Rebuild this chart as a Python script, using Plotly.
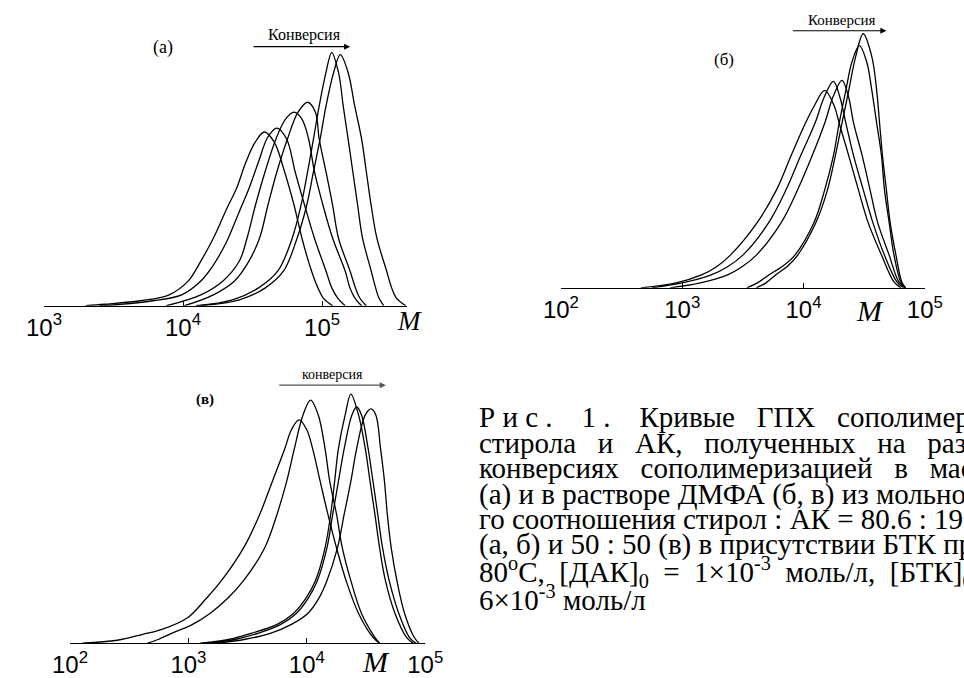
import numpy as np
import plotly.graph_objects as go

# ---------------- data (log10 M, relative detector response) ----------------
# Panel (a): 6 curves
a_logM_1 = [3.30, 3.436, 3.692, 3.900, 4.038, 4.128, 4.218, 4.315, 4.384, 4.453, 4.52, 4.585, 4.655, 4.730, 4.799, 4.855, 4.924, 4.97, 5.007, 5.076]
a_h_1 = [0, 1.5, 5, 11, 25, 45, 68, 98, 118, 145, 165, 175, 165, 135, 101, 68, 35, 18, 8, 0]
a_logM_2 = [3.40, 3.60, 3.782, 3.990, 4.128, 4.218, 4.315, 4.405, 4.474, 4.543, 4.61, 4.675, 4.745, 4.806, 4.875, 4.945, 5.028, 5.07, 5.111, 5.166]
a_h_2 = [0, 2, 5, 11, 25, 41, 65, 95, 118, 145, 170, 179, 168, 135, 101, 68, 35, 18, 8, 0]
a_logM_3 = [3.88, 4.128, 4.287, 4.405, 4.460, 4.52, 4.59, 4.668, 4.737, 4.799, 4.855, 4.903, 4.945, 5.007, 5.076, 5.166, 5.20, 5.235, 5.284]
a_h_3 = [0, 11, 25, 45, 68, 101, 135, 168, 188, 195, 188, 168, 135, 101, 68, 35, 18, 8, 0]
a_logM_4 = [4.01, 4.218, 4.37, 4.474, 4.55, 4.61, 4.675, 4.751, 4.827, 4.896, 4.952, 4.979, 5.028, 5.076, 5.118, 5.201, 5.24, 5.270, 5.318]
a_h_4 = [0, 11, 25, 45, 68, 101, 135, 168, 195, 205, 195, 168, 135, 101, 68, 35, 18, 8, 0]
a_logM_5 = [4.093, 4.356, 4.543, 4.682, 4.785, 4.848, 4.896, 4.938, 4.979, 5.028, 5.069, 5.118, 5.152, 5.187, 5.221, 5.256, 5.291, 5.353, 5.385, 5.408, 5.443]
a_h_5 = [0, 6, 18, 35, 68, 101, 135, 168, 201, 235, 255, 235, 201, 168, 135, 101, 68, 35, 18, 8, 0]
a_logM_6 = [4.128, 4.405, 4.592, 4.723, 4.820, 4.889, 4.938, 4.986, 5.028, 5.083, 5.131, 5.187, 5.235, 5.284, 5.318, 5.353, 5.394, 5.464, 5.50, 5.533, 5.602]
a_h_6 = [0, 6, 18, 35, 68, 101, 135, 168, 201, 235, 253, 235, 201, 168, 135, 101, 68, 35, 18, 8, 0]

# Panel (б): 5 curves
b_logM_1 = [2.659, 2.95, 3.159, 3.28, 3.397, 3.619, 3.778, 3.897, 4.016, 4.087, 4.175, 4.254, 4.294, 4.373, 4.452, 4.532, 4.643, 4.746, 4.802]
b_h_1 = [0, 5, 13, 21, 33, 66, 99, 133, 166, 183, 199, 183, 166, 133, 99, 66, 33, 6, 0]
b_logM_2 = [2.75, 3.0, 3.238, 3.37, 3.500, 3.714, 3.857, 3.976, 4.095, 4.17, 4.246, 4.30, 4.349, 4.413, 4.492, 4.571, 4.667, 4.770, 4.825]
b_h_2 = [0, 5, 13, 21, 33, 66, 99, 133, 166, 192, 208, 192, 166, 133, 99, 66, 33, 6, 0]
b_logM_3 = [2.9, 3.15, 3.373, 3.49, 3.611, 3.817, 3.952, 4.071, 4.175, 4.245, 4.317, 4.37, 4.413, 4.484, 4.548, 4.611, 4.706, 4.786, 4.841]
b_h_3 = [0, 5, 13, 21, 33, 66, 99, 133, 166, 193, 209, 193, 166, 133, 99, 66, 33, 6, 0]
b_logM_4 = [3.532, 3.62, 3.714, 3.83, 3.929, 4.087, 4.175, 4.246, 4.294, 4.349, 4.40, 4.460, 4.52, 4.563, 4.603, 4.643, 4.667, 4.706, 4.746, 4.802, 4.841]
b_h_4 = [0, 5, 13, 22, 33, 66, 99, 133, 166, 199, 228, 244, 228, 199, 166, 133, 99, 66, 33, 6, 0]
b_logM_5 = [3.611, 3.69, 3.770, 3.87, 3.952, 4.103, 4.198, 4.262, 4.317, 4.373, 4.43, 4.492, 4.563, 4.603, 4.627, 4.651, 4.683, 4.714, 4.762, 4.810, 4.841]
b_h_5 = [0, 5, 13, 22, 33, 66, 99, 133, 166, 199, 233, 256, 233, 199, 166, 133, 99, 66, 33, 6, 0]

# Panel (в): 5 curves
c_logM_1 = [2.105, 2.40, 2.615, 2.777, 2.996, 3.15, 3.279, 3.466, 3.603, 3.709, 3.814, 3.87, 3.935, 4.00, 4.049, 4.113, 4.178, 4.251, 4.332, 4.437, 4.559, 4.615]
c_h_1 = [0, 3, 9, 14, 26, 45, 63, 96, 130, 163, 196, 215, 225, 215, 196, 163, 130, 96, 63, 30, 6, 0]
c_logM_2 = [2.656, 2.75, 2.858, 3.02, 3.182, 3.33, 3.466, 3.644, 3.749, 3.830, 3.895, 3.968, 4.032, 4.097, 4.154, 4.194, 4.251, 4.300, 4.372, 4.462, 4.575, 4.615]
c_h_2 = [0, 4, 10, 18, 30, 45, 63, 96, 130, 163, 196, 230, 245, 230, 196, 163, 130, 96, 63, 30, 6, 0]
c_logM_3 = [3.10, 3.35, 3.530, 3.75, 3.887, 3.99, 4.073, 4.154, 4.202, 4.235, 4.267, 4.324, 4.372, 4.437, 4.494, 4.534, 4.575, 4.615, 4.664, 4.745, 4.842, 4.899]
c_h_3 = [0, 4, 10, 19, 30, 45, 63, 96, 130, 163, 196, 230, 251, 230, 196, 163, 130, 96, 63, 30, 6, 0]
c_logM_4 = [3.18, 3.40, 3.587, 3.78, 3.911, 4.01, 4.089, 4.170, 4.219, 4.267, 4.316, 4.381, 4.421, 4.462, 4.518, 4.559, 4.599, 4.640, 4.696, 4.777, 4.866, 4.923]
c_h_4 = [0, 4, 10, 19, 30, 45, 63, 96, 130, 163, 196, 230, 238, 230, 196, 163, 130, 96, 63, 30, 6, 0]
c_logM_5 = [3.25, 3.48, 3.692, 3.87, 4.008, 4.10, 4.170, 4.259, 4.316, 4.372, 4.421, 4.494, 4.543, 4.583, 4.623, 4.656, 4.680, 4.713, 4.761, 4.826, 4.907, 4.947]
c_h_5 = [0, 4, 10, 19, 30, 45, 63, 96, 130, 163, 196, 230, 236, 230, 196, 163, 130, 96, 63, 30, 6, 0]

a_ticks = [1e3, 1e4, 1e5]
a_ticktext = ["10<sup>3</sup>", "10<sup>4</sup>", "10<sup>5</sup>"]
bc_ticks = [1e2, 1e3, 1e4, 1e5]
bc_ticktext = ["10<sup>2</sup>", "10<sup>3</sup>", "10<sup>4</sup>", "10<sup>5</sup>"]

caption_lines = [
    "Р и с .\u00a0\u00a0\u00a0 1 .\u00a0\u00a0\u00a0 Кривые\u00a0\u00a0 ГПХ\u00a0\u00a0 сополимеров",
    "стирола\u00a0\u00a0 и\u00a0\u00a0 АК,\u00a0\u00a0 полученных\u00a0\u00a0 на\u00a0\u00a0 разных",
    "конверсиях\u00a0\u00a0 сополимеризацией\u00a0\u00a0 в\u00a0\u00a0 массе",
    "(а) и в растворе ДМФА (б, в) из мольно-",
    "го соотношения стирол : АК = 80.6 : 19.4",
    "(а, б) и 50 : 50 (в) в присутствии БТК при",
    "80<sup>o</sup>C,\u00a0 [ДАК]<sub>0</sub>\u00a0 =\u00a0 1×10<sup>-3</sup>\u00a0 моль/л,\u00a0 [БТК]<sub>0</sub>\u00a0 =",
    "6×10<sup>-3</sup> моль/л",
]

# ---------------- layout helpers ----------------
W, H = 964, 678
def px(x):
    return x / W
def py(y):
    return 1 - y / H

fig = go.Figure()
line_style = dict(color="black", width=1.3, shape="spline", smoothing=1.0)

panels = [
    ("x", "y", [(a_logM_1, a_h_1), (a_logM_2, a_h_2), (a_logM_3, a_h_3),
                (a_logM_4, a_h_4), (a_logM_5, a_h_5), (a_logM_6, a_h_6)]),
    ("x2", "y2", [(b_logM_1, b_h_1), (b_logM_2, b_h_2), (b_logM_3, b_h_3),
                  (b_logM_4, b_h_4), (b_logM_5, b_h_5)]),
    ("x3", "y3", [(c_logM_1, c_h_1), (c_logM_2, c_h_2), (c_logM_3, c_h_3),
                  (c_logM_4, c_h_4), (c_logM_5, c_h_5)]),
]
for xa, ya, curves in panels:
    for lm, h in curves:
        fig.add_trace(go.Scatter(x=10 ** np.array(lm), y=h, mode="lines",
                                 line=line_style, xaxis=xa, yaxis=ya,
                                 showlegend=False, hoverinfo="skip"))

tickfont = dict(family="Liberation Sans, Arial, sans-serif", size=24, color="black")
def xax(domain, rng, tv, tt, anchor):
    return dict(type="log", domain=domain, range=rng, tickvals=tv, ticktext=tt,
                ticks="inside", ticklen=5, tickwidth=1, tickcolor="black",
                showline=True, linecolor="black", linewidth=1, showgrid=False,
                zeroline=False, tickfont=tickfont, anchor=anchor, fixedrange=True)
def yax(domain, anchor):
    return dict(domain=domain, range=[0, 260], visible=False, showgrid=False,
                zeroline=False, anchor=anchor, fixedrange=True)

fig.update_layout(
    width=W, height=H, margin=dict(l=0, r=0, t=0, b=0),
    paper_bgcolor="white", plot_bgcolor="white",
    xaxis=xax([px(27), px(404)], [3, 5.61], a_ticks, a_ticktext, "y"),
    yaxis=yax([py(308), py(48)], "x"),
    xaxis2=xax([px(564), px(942)], [2, 5], bc_ticks, bc_ticktext, "y2"),
    yaxis2=yax([py(290), py(30)], "x2"),
    xaxis3=xax([px(54), px(423)], [2, 5], bc_ticks, bc_ticktext, "y3"),
    yaxis3=yax([py(648), py(388)], "x3"),
)

serif = "Liberation Serif, Times New Roman, serif"
ann = []
def text(x, y, s, size, xanchor="center", color="black"):
    ann.append(dict(x=px(x), y=py(y), xref="paper", yref="paper", text=s,
                    showarrow=False, xanchor=xanchor, yanchor="middle",
                    font=dict(family=serif, size=size, color=color)))
def arrow(x0, x1, y, color="black"):
    ann.append(dict(x=px(x1), y=py(y), xref="paper", yref="paper", text="",
                    showarrow=True, ax=-(x1 - x0), ay=0, axref="pixel", ayref="pixel",
                    arrowhead=2, arrowsize=1, arrowwidth=1.2, arrowcolor=color,
                    standoff=0, startstandoff=0))

# panel (a)
text(151, 48, "(a)", 18)
text(298, 35, "Конверсия", 16)
arrow(247, 345, 47)
text(407, 323, "<i>M</i>", 27)
# panel (б)
text(733, 60, "(б)", 17)
text(856, 20, "Конверсия", 15)
arrow(807, 902, 31)
text(885, 313, "<i>M</i>", 30)
# panel (в)
text(194, 402, "<b>(в)</b>", 15)
text(327, 377, "конверсия", 14)
arrow(274, 382, 388, color="#555555")
text(372, 666, "<i>M</i>", 30)

# caption
line_y = [420, 446, 471, 498, 523, 549, 576, 602]
for yy, s in zip(line_y, caption_lines):
    text(477, yy, s, 29, xanchor="left")

fig.update_layout(annotations=ann)

fig.write_html("out.html", config={"displayModeBar": False, "staticPlot": True},
               post_script="document.body.style.margin='0';document.body.style.overflow='hidden';")
